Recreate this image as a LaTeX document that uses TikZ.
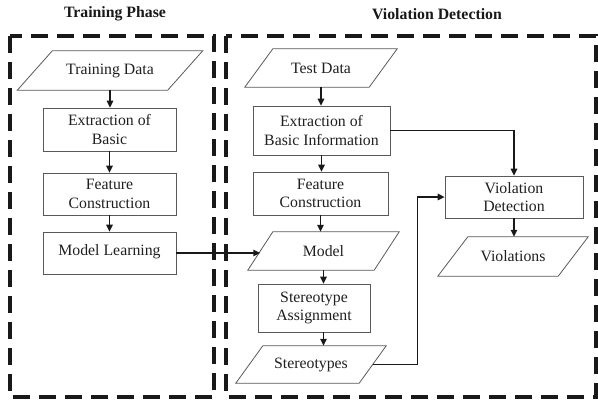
\documentclass[tikz,border=0pt]{standalone}
\usepackage{fontspec}
\setmainfont{Liberation Serif}
\usetikzlibrary{arrows.meta,calc}
\newcommand\myparal[2]{\draw[paraline] ([xshift=#2/2]#1.north west) -- ([xshift=#2/2]#1.north east) -- ([xshift=-#2/2]#1.south east) -- ([xshift=-#2/2]#1.south west) -- cycle;}
\begin{document}
\begin{tikzpicture}[x=1pt,y=-1pt,
  txt/.style={font=\fontsize{15.8}{18.5}\selectfont, text=black!88},
  title/.style={font=\fontsize{15.8}{18.5}\selectfont\bfseries, text=black!90},
  box/.style={txt, draw=black!65, line width=0.8pt, inner sep=0pt, align=center},
  io/.style={txt, inner sep=0pt, align=center},
  paraline/.style={draw=black!65, line width=0.8pt, line join=miter},
  conn/.style={draw=black!90, line width=1.4pt, -{Triangle[length=7pt,width=6.5pt]}},
  frame/.style={draw=black!90, line width=4pt, dash pattern=on 17pt off 9pt}
]
\useasboundingbox (0,0) rectangle (598,400);

% frames
\draw[frame] (10,36) rectangle (214,397);
\draw[frame] (226,36) rectangle (596,397);

% titles
\node[title] (t1) at (115,14) {Training Phase};
\node[title] (t2) at (437,14) {Violation Detection};

% training column
\node[io, minimum width=150pt, minimum height=39pt] (td) at (110,70.5) {Training Data};
\node[box, minimum width=133pt, minimum height=43pt] (e1) at (109.5,129.5) {Extraction of\\Basic};
\node[box, minimum width=133pt, minimum height=42pt] (f1) at (109.5,194) {Feature\\Construction};
\node[box, minimum width=133pt, minimum height=42pt] (ml) at (109.5,253) {\raisebox{5pt}{Model Learning}};

% detection column
\node[io, minimum width=124pt, minimum height=38pt] (tst) at (321,68) {Test Data};
\node[box, minimum width=137pt, minimum height=49pt] (e2) at (321.5,130.5) {Extraction of\\Basic Information};
\node[box, minimum width=135pt, minimum height=43pt] (f2) at (320.5,193.5) {Feature\\Construction};
\node[io, minimum width=126pt, minimum height=38pt] (mod) at (323.5,251) {Model};
\node[box, minimum width=112pt, minimum height=48pt] (sa) at (314,308) {Stereotype\\Assignment};
\node[io, minimum width=123pt, minimum height=37pt] (st) at (311,364.5) {Stereotypes};
\node[box, minimum width=138pt, minimum height=42pt] (vd) at (514,197) {Violation\\Detection};
\node[io, minimum width=120pt, minimum height=39pt] (vio) at (513,256.5) {Violations};

\myparal{td}{35}
\myparal{tst}{28}
\myparal{mod}{25}
\myparal{st}{27}
\myparal{vio}{30}

% connectors
\draw[conn] (td.south) -- (td.south |- e1.north);
\draw[conn] (e1.south) -- (e1.south |- f1.north);
\draw[conn] (f1.south) -- (f1.south |- ml.north);
\draw[conn] (tst.south) -- (tst.south |- e2.north);
\draw[conn] (e2.south) -- (e2.south |- f2.north);
\draw[conn] (f2.south) -- (f2.south |- mod.north);
\draw[conn] (mod.south) -- (mod.south |- sa.north);
\draw[conn] (mod.south |- sa.south) -- (mod.south |- st.north);
\draw[conn] (ml.east) -- (ml.east -| mod.west);
\draw[conn] (e2.east) -| (vd.north);
\draw[conn] (st.east) -- ++(45,0) |- (vd.west);
\draw[conn] (vd.south) -- (vd.south |- vio.north);
\end{tikzpicture}
\end{document}
